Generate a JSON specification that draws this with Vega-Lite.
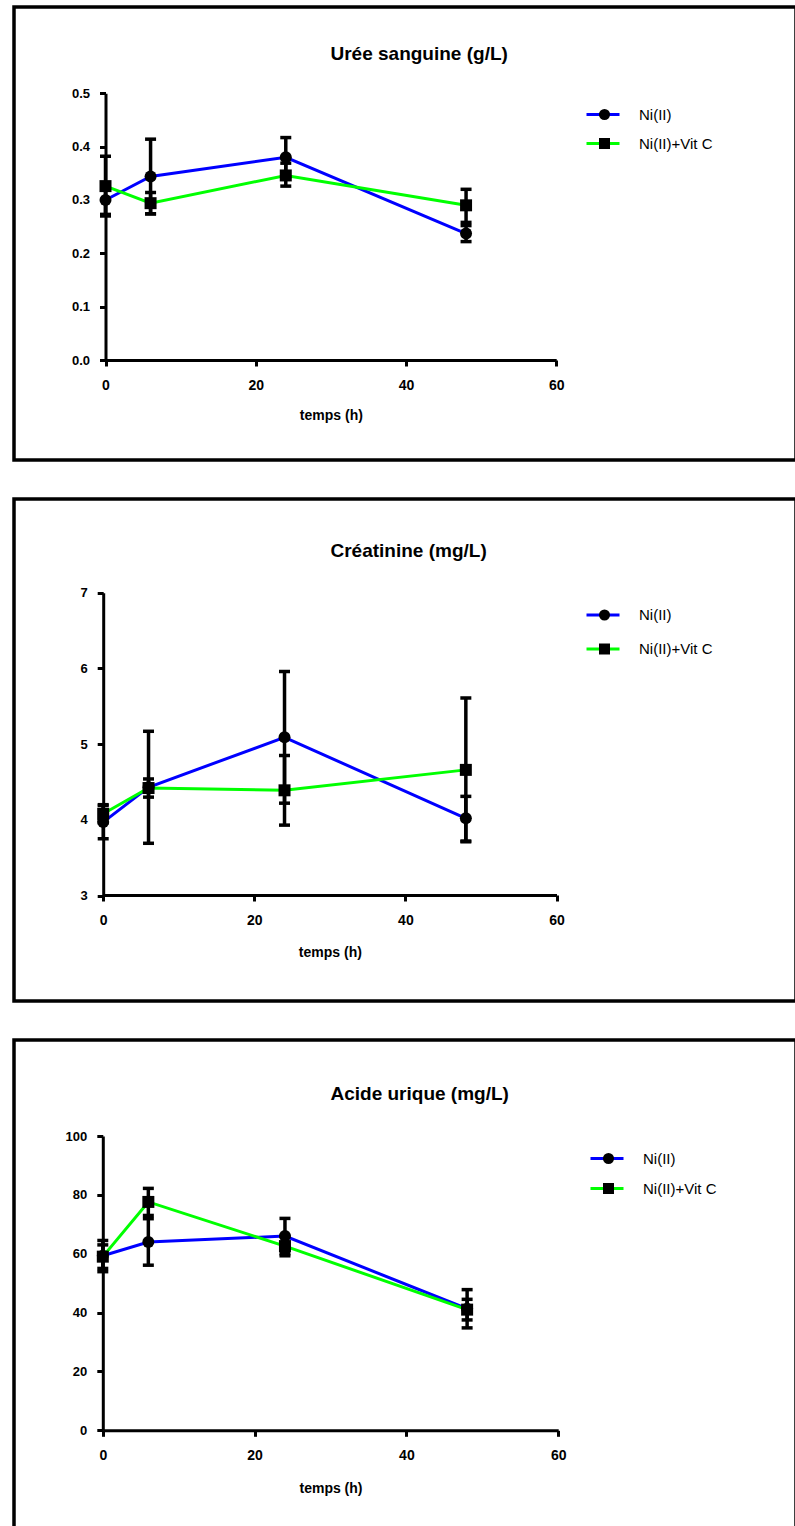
{
  "$schema": "https://vega.github.io/schema/vega-lite/v6.json",
  "background": "white",
  "padding": {"left": 12, "top": 5, "right": 0, "bottom": 0},
  "spacing": 35,
  "resolve": {
    "scale": {"x": "independent", "y": "independent", "color": "independent", "shape": "independent"},
    "legend": {"color": "independent", "shape": "independent"},
    "axis": {"x": "independent", "y": "independent"}
  },
  "vconcat": [
    {
      "width": 782,
      "height": 453,
      "title": {"text": "Urée sanguine (g/L)", "offset": -57},
      "data": {"values": [
        {"t": 0, "series": "Ni(II)", "mean": 0.300, "lo": 0.273, "hi": 0.327},
        {"t": 6, "series": "Ni(II)", "mean": 0.344, "lo": 0.274, "hi": 0.414},
        {"t": 24, "series": "Ni(II)", "mean": 0.380, "lo": 0.343, "hi": 0.417},
        {"t": 48, "series": "Ni(II)", "mean": 0.237, "lo": 0.222, "hi": 0.252},
        {"t": 0, "series": "Ni(II)+Vit C", "mean": 0.326, "lo": 0.270, "hi": 0.382},
        {"t": 6, "series": "Ni(II)+Vit C", "mean": 0.294, "lo": 0.274, "hi": 0.314},
        {"t": 24, "series": "Ni(II)+Vit C", "mean": 0.346, "lo": 0.326, "hi": 0.369},
        {"t": 48, "series": "Ni(II)+Vit C", "mean": 0.290, "lo": 0.258, "hi": 0.320}
      ]},
      "encoding": {
        "x": {"field": "t", "type": "quantitative", "scale": {"domain": [0, 60], "range": [91.5, 542.2], "nice": false, "zero": false}, "axis": {"values": [0, 20, 40, 60], "title": "temps (h)", "offset": -100, "titlePadding": 16}}
      },
      "layer": [
        {"mark": {"type": "line", "strokeWidth": 3},
         "encoding": {
           "y": {"field": "mean", "type": "quantitative", "title": null, "scale": {"domain": [0, 0.5], "range": [353, 86.3], "nice": false}, "axis": {"values": [0, 0.1, 0.2, 0.3, 0.4, 0.5], "format": ".1f", "offset": -91.5}},
           "color": {"field": "series", "type": "nominal", "scale": {"domain": ["Ni(II)", "Ni(II)+Vit C"], "range": ["#0000ff", "#00ff00"]},
             "legend": {"title": null, "orient": "none", "legendX": 581.5, "legendY": 100, "symbolType": "M-3,0H3", "symbolSize": 121, "symbolStrokeWidth": 3, "labelOpacity": 0, "labelOffset": 27, "rowPadding": 13, "padding": 0}}
         }},
        {"mark": {"type": "rule", "color": "black", "strokeWidth": 3.5},
         "encoding": {"y": {"field": "lo", "type": "quantitative", "title": null}, "y2": {"field": "hi"}}},
        {"mark": {"type": "tick", "orient": "horizontal", "color": "black", "size": 11, "thickness": 3.5, "opacity": 1},
         "encoding": {"y": {"field": "lo", "type": "quantitative", "title": null}}},
        {"mark": {"type": "tick", "orient": "horizontal", "color": "black", "size": 11, "thickness": 3.5, "opacity": 1},
         "encoding": {"y": {"field": "hi", "type": "quantitative", "title": null}}},
        {"mark": {"type": "point", "filled": true, "color": "black", "size": 144, "opacity": 1},
         "encoding": {
           "y": {"field": "mean", "type": "quantitative", "title": null},
           "shape": {"field": "series", "type": "nominal", "scale": {"range": ["circle", "square"]},
             "legend": {"title": null, "orient": "none", "legendX": 583, "legendY": 100, "symbolSize": 121, "symbolStrokeWidth": 0, "symbolFillColor": "black", "labelOffset": 27, "rowPadding": 13, "padding": 0, "zindex": 1}}
         }}
      ]
    },
    {
      "width": 782,
      "height": 502,
      "title": {"text": "Créatinine (mg/L)", "offset": -61.5},
      "data": {"values": [
        {"t": 0, "series": "Ni(II)", "mean": 3.97, "lo": 3.75, "hi": 4.19},
        {"t": 6, "series": "Ni(II)", "mean": 4.43, "lo": 3.69, "hi": 5.17},
        {"t": 24, "series": "Ni(II)", "mean": 5.09, "lo": 4.22, "hi": 5.96},
        {"t": 48, "series": "Ni(II)", "mean": 4.02, "lo": 3.72, "hi": 4.31},
        {"t": 0, "series": "Ni(II)+Vit C", "mean": 4.08, "lo": 3.96, "hi": 4.20},
        {"t": 6, "series": "Ni(II)+Vit C", "mean": 4.42, "lo": 4.30, "hi": 4.54},
        {"t": 24, "series": "Ni(II)+Vit C", "mean": 4.39, "lo": 3.93, "hi": 4.85},
        {"t": 48, "series": "Ni(II)+Vit C", "mean": 4.66, "lo": 3.71, "hi": 5.61}
      ]},
      "encoding": {
        "x": {"field": "t", "type": "quantitative", "scale": {"domain": [0, 60], "range": [89.2, 542.5], "nice": false, "zero": false}, "axis": {"values": [0, 20, 40, 60], "title": "temps (h)", "offset": -106, "titlePadding": 18}}
      },
      "layer": [
        {"mark": {"type": "line", "strokeWidth": 3},
         "encoding": {
           "y": {"field": "mean", "type": "quantitative", "title": null, "scale": {"domain": [3, 7], "range": [396.5, 93.8], "nice": false, "zero": false}, "axis": {"values": [3, 4, 5, 6, 7], "format": "d", "offset": -89.2}},
           "color": {"field": "series", "type": "nominal", "scale": {"domain": ["Ni(II)", "Ni(II)+Vit C"], "range": ["#0000ff", "#00ff00"]},
             "legend": {"title": null, "orient": "none", "legendX": 581.5, "legendY": 108.5, "symbolType": "M-3,0H3", "symbolSize": 121, "symbolStrokeWidth": 3, "labelOpacity": 0, "labelOffset": 27, "rowPadding": 18, "padding": 0}}
         }},
        {"mark": {"type": "rule", "color": "black", "strokeWidth": 3.5},
         "encoding": {"y": {"field": "lo", "type": "quantitative", "title": null}, "y2": {"field": "hi"}}},
        {"mark": {"type": "tick", "orient": "horizontal", "color": "black", "size": 11, "thickness": 3.5, "opacity": 1},
         "encoding": {"y": {"field": "lo", "type": "quantitative", "title": null}}},
        {"mark": {"type": "tick", "orient": "horizontal", "color": "black", "size": 11, "thickness": 3.5, "opacity": 1},
         "encoding": {"y": {"field": "hi", "type": "quantitative", "title": null}}},
        {"mark": {"type": "point", "filled": true, "color": "black", "size": 144, "opacity": 1},
         "encoding": {
           "y": {"field": "mean", "type": "quantitative", "title": null},
           "shape": {"field": "series", "type": "nominal", "scale": {"range": ["circle", "square"]},
             "legend": {"title": null, "orient": "none", "legendX": 583, "legendY": 108.5, "symbolSize": 121, "symbolStrokeWidth": 0, "symbolFillColor": "black", "labelOffset": 27, "rowPadding": 18, "padding": 0, "zindex": 1}}
         }}
      ]
    },
    {
      "width": 782,
      "height": 500,
      "title": {"text": "Acide urique (mg/L)", "offset": -64},
      "data": {"values": [
        {"t": 0, "series": "Ni(II)", "mean": 59.3, "lo": 53.9, "hi": 64.5},
        {"t": 6, "series": "Ni(II)", "mean": 64.0, "lo": 56.1, "hi": 71.9},
        {"t": 24, "series": "Ni(II)", "mean": 66.0, "lo": 60.0, "hi": 72.0},
        {"t": 48, "series": "Ni(II)", "mean": 41.3, "lo": 34.8, "hi": 47.8},
        {"t": 0, "series": "Ni(II)+Vit C", "mean": 59.0, "lo": 55.0, "hi": 63.0},
        {"t": 6, "series": "Ni(II)+Vit C", "mean": 77.6, "lo": 73.0, "hi": 82.2},
        {"t": 24, "series": "Ni(II)+Vit C", "mean": 62.6, "lo": 59.3, "hi": 65.9},
        {"t": 48, "series": "Ni(II)+Vit C", "mean": 41.0, "lo": 37.5, "hi": 44.5}
      ]},
      "encoding": {
        "x": {"field": "t", "type": "quantitative", "scale": {"domain": [0, 60], "range": [88.8, 544.2], "nice": false, "zero": false}, "axis": {"values": [0, 20, 40, 60], "title": "temps (h)", "offset": -109.7, "titlePadding": 19}}
      },
      "layer": [
        {"mark": {"type": "line", "strokeWidth": 3},
         "encoding": {
           "y": {"field": "mean", "type": "quantitative", "title": null, "scale": {"domain": [0, 100], "range": [390.3, 96], "nice": false}, "axis": {"values": [0, 20, 40, 60, 80, 100], "offset": -88.8}},
           "color": {"field": "series", "type": "nominal", "scale": {"domain": ["Ni(II)", "Ni(II)+Vit C"], "range": ["#0000ff", "#00ff00"]},
             "legend": {"title": null, "orient": "none", "legendX": 585.5, "legendY": 111, "symbolType": "M-3,0H3", "symbolSize": 121, "symbolStrokeWidth": 3, "labelOpacity": 0, "labelOffset": 27, "rowPadding": 14, "padding": 0}}
         }},
        {"mark": {"type": "rule", "color": "black", "strokeWidth": 3.5},
         "encoding": {"y": {"field": "lo", "type": "quantitative", "title": null}, "y2": {"field": "hi"}}},
        {"mark": {"type": "tick", "orient": "horizontal", "color": "black", "size": 11, "thickness": 3.5, "opacity": 1},
         "encoding": {"y": {"field": "lo", "type": "quantitative", "title": null}}},
        {"mark": {"type": "tick", "orient": "horizontal", "color": "black", "size": 11, "thickness": 3.5, "opacity": 1},
         "encoding": {"y": {"field": "hi", "type": "quantitative", "title": null}}},
        {"mark": {"type": "point", "filled": true, "color": "black", "size": 144, "opacity": 1},
         "encoding": {
           "y": {"field": "mean", "type": "quantitative", "title": null},
           "shape": {"field": "series", "type": "nominal", "scale": {"range": ["circle", "square"]},
             "legend": {"title": null, "orient": "none", "legendX": 587, "legendY": 111, "symbolSize": 121, "symbolStrokeWidth": 0, "symbolFillColor": "black", "labelOffset": 27, "rowPadding": 14, "padding": 0, "zindex": 1}}
         }}
      ]
    }
  ],
  "config": {
    "view": {"stroke": "black", "strokeWidth": 3.5},
    "axis": {"domainColor": "black", "domainWidth": 3, "tickColor": "black", "tickWidth": 3, "tickSize": 6, "labelFont": "Liberation Sans", "labelFontWeight": "bold", "labelColor": "black", "titleFont": "Liberation Sans", "titleFontWeight": "bold", "titleFontSize": 14, "titleColor": "black", "grid": false, "labelFlush": false, "labelOverlap": false},
    "axisX": {"labelFontSize": 14, "labelPadding": 12},
    "axisY": {"labelFontSize": 13, "labelPadding": 10},
    "legend": {"labelFont": "Liberation Sans", "labelFontSize": 15, "labelColor": "black"},
    "title": {"font": "Liberation Sans", "fontSize": 19, "fontWeight": "bold", "color": "black", "anchor": "start", "frame": "group", "align": "center", "dx": 316.5, "baseline": "alphabetic"}
  }
}
